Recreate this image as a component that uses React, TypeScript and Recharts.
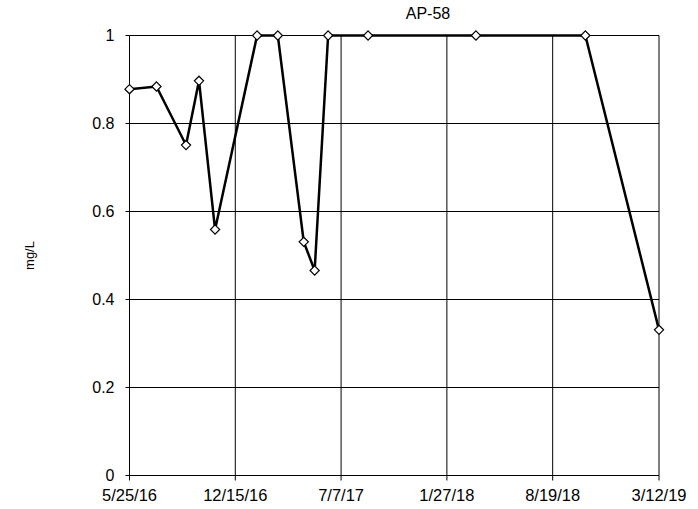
import { LineChart, Line, XAxis, YAxis, CartesianGrid } from 'recharts'

// sample dates (UTC) and measured concentrations, mg/L
const sampleDates = [
  '2016-05-25',
  '2016-07-16',
  '2016-09-11',
  '2016-10-06',
  '2016-11-06',
  '2017-01-26',
  '2017-03-07',
  '2017-04-26',
  '2017-05-17',
  '2017-06-12',
  '2017-08-28',
  '2018-03-24',
  '2018-10-21',
  '2019-03-12',
]
const concentrations = [0.878, 0.884, 0.751, 0.897, 0.559, 1, 1, 0.531, 0.466, 1, 1, 1, 1, 0.331]

const xTickDates = ['2016-05-25', '2016-12-15', '2017-07-07', '2018-01-27', '2018-08-19', '2019-03-12']
const yTicks = [0, 0.2, 0.4, 0.6, 0.8, 1]

const toTime = (d: string) => Date.parse(d + 'T00:00:00Z')

const data = sampleDates.map((d, i) => ({ t: toTime(d), value: concentrations[i] }))
const xTicks = xTickDates.map(toTime)

const fmtDate = (t: number) => {
  const d = new Date(t)
  return `${d.getUTCMonth() + 1}/${d.getUTCDate()}/${String(d.getUTCFullYear()).slice(2)}`
}

const FONT = '"Liberation Sans", Arial, sans-serif'

const Diamond = (props: any) => {
  const { cx, cy } = props
  if (cx == null || cy == null) return null
  const r = 4.6
  return (
    <polygon
      points={`${cx},${cy - r} ${cx + r},${cy} ${cx},${cy + r} ${cx - r},${cy}`}
      fill="#fff"
      stroke="#000"
      strokeWidth={1.2}
    />
  )
}

export default function App() {
  return (
    <div style={{ position: 'fixed', left: 0, top: 0, width: 698, height: 509, background: '#fff' }}>
      <div
        style={{
          position: 'absolute',
          left: 378,
          top: 6,
          width: 100,
          textAlign: 'center',
          fontFamily: FONT,
          fontSize: 16,
          lineHeight: '16px',
          color: '#000',
        }}
      >
        AP-58
      </div>
      <LineChart
        width={698}
        height={509}
        data={data}
        margin={{ top: 35.5, right: 39, bottom: 0, left: 0 }}
      >
        <CartesianGrid stroke="#000" strokeWidth={1} verticalValues={xTicks} horizontalValues={yTicks} />
        <XAxis
          dataKey="t"
          type="number"
          scale="time"
          domain={[xTicks[0], xTicks[xTicks.length - 1]]}
          ticks={xTicks}
          tickFormatter={fmtDate}
          height={33.5}
          tickSize={5}
          tickMargin={9}
          stroke="#000"
          tick={{ fill: '#000', fontSize: 16.5, fontFamily: FONT }}
          interval={0}
        />
        <YAxis
          type="number"
          domain={[0, 1]}
          ticks={yTicks}
          width={129.5}
          tickSize={4}
          tickMargin={11}
          stroke="#000"
          tick={{ fill: '#000', fontSize: 16, fontFamily: FONT }}
          interval={0}
          label={{
            value: 'mg/L',
            angle: -90,
            position: 'insideLeft',
            offset: 29,
            style: { textAnchor: 'middle', fontSize: 13, fontFamily: FONT, fill: '#000' },
          }}
        />
        <Line
          dataKey="value"
          stroke="#000"
          strokeWidth={2.5}
          dot={<Diamond />}
          activeDot={false}
          isAnimationActive={false}
        />
      </LineChart>
    </div>
  )
}
